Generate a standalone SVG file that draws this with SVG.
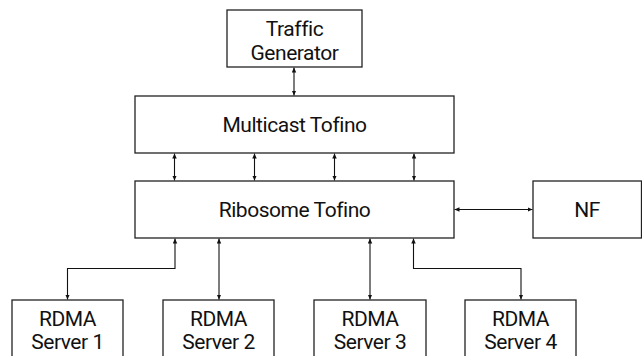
<svg xmlns="http://www.w3.org/2000/svg" width="642" height="356" viewBox="0 0 642 356">
<defs>
<marker id="ah" viewBox="0 0 10 10" refX="10" refY="5" markerWidth="5" markerHeight="5" markerUnits="userSpaceOnUse" orient="auto-start-reverse">
<path d="M0,0.5 L10,5 L0,9.5 z" fill="#111"/>
</marker>
<style>
.box{fill:#fff;stroke:#222;stroke-width:1.3}
.t{font-family:Roboto,"Liberation Sans",sans-serif;font-size:21px;letter-spacing:-0.45px;fill:#111;text-anchor:middle}
.c{fill:none;stroke:#111;stroke-width:1.1;marker-start:url(#ah);marker-end:url(#ah)}
</style>
</defs>
<rect width="642" height="356" fill="#fff"/>
<g id="connectors">
<path class="c" d="M294,67.5 V95.5"/>
<path class="c" d="M174.5,153.5 V180.5"/>
<path class="c" d="M254.5,153.5 V180.5"/>
<path class="c" d="M334.5,153.5 V180.5"/>
<path class="c" d="M414,153.5 V180.5"/>
<path class="c" d="M454.5,209.5 H532.5"/>
<path class="c" d="M175,238.5 V268.5 H67.5 V299.5"/>
<path class="c" d="M219,238.5 V299.5"/>
<path class="c" d="M370,238.5 V299.5"/>
<path class="c" d="M413.5,238.5 V268.5 H521 V299.5"/>
</g>
<g id="traffic">
<rect class="box" x="227" y="10" width="135" height="57"/>
<text class="t" x="294.5" y="35.5">Traffic</text>
<text class="t" x="294.5" y="59.5">Generator</text>
</g>
<g id="multicast">
<rect class="box" x="135" y="96" width="319" height="57"/>
<text class="t" x="294.5" y="132">Multicast Tofino</text>
</g>
<g id="ribosome">
<rect class="box" x="135" y="181" width="319" height="57"/>
<text class="t" x="294.5" y="217">Ribosome Tofino</text>
</g>
<g id="nf">
<rect class="box" x="533" y="181" width="108.5" height="57"/>
<text class="t" x="587" y="217">NF</text>
</g>
<g id="server1">
<rect class="box" x="12" y="300" width="111" height="60"/>
<text class="t" x="67.5" y="325.5">RDMA</text>
<text class="t" x="67.5" y="349">Server 1</text>
</g>
<g id="server2">
<rect class="box" x="163" y="300" width="111" height="60"/>
<text class="t" x="218.5" y="325.5">RDMA</text>
<text class="t" x="218.5" y="349">Server 2</text>
</g>
<g id="server3">
<rect class="box" x="314" y="300" width="112" height="60"/>
<text class="t" x="370" y="325.5">RDMA</text>
<text class="t" x="370" y="349">Server 3</text>
</g>
<g id="server4">
<rect class="box" x="465" y="300" width="111" height="60"/>
<text class="t" x="520.5" y="325.5">RDMA</text>
<text class="t" x="520.5" y="349">Server 4</text>
</g>
</svg>
